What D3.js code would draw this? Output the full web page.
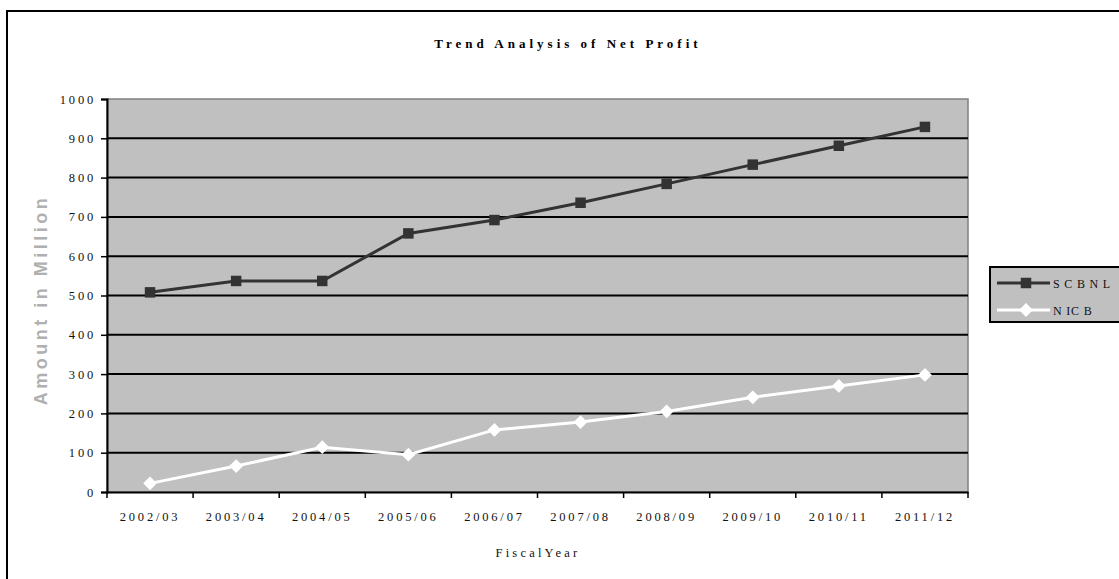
<!DOCTYPE html>
<html>
<head>
<meta charset="utf-8">
<script src="https://cdn.jsdelivr.net/npm/d3@7"></script>
<style>
body{margin:0;background:#fff;}
.tick text{font-family:"Liberation Serif","Times New Roman",serif;}
</style>
</head>
<body>
<script>
// data
var years=['2002/03','2003/04','2004/05','2005/06','2006/07','2007/08','2008/09','2009/10','2010/11','2011/12'];
var scbnl=[508,537,537,658,692,736,784,833,881,929];
var nicb=[22,66,114,95,158,178,205,241,270,298];
var yticks=[0,100,200,300,400,500,600,700,800,900,1000];
var seriesNames=['S C B N L','N IC B'];

var wid=1119, hgh=579;
var pl=107, pr=968, pt=99, pb=492; // plot box

var svg=d3.select('body').append('svg').attr('width',wid).attr('height',hgh);

// outer frame
svg.append('rect').attr('x',7).attr('y',11).attr('width',1200).attr('height',700)
  .attr('fill','#fff').attr('stroke','#000').attr('stroke-width',2);

var x=d3.scaleBand().domain(years).range([pl,pr]);
var y=d3.scaleLinear().domain([0,1000]).range([pb,pt]);

// plot area
svg.append('rect').attr('x',pl).attr('y',pt).attr('width',pr-pl).attr('height',pb-pt)
  .attr('fill','#c0c0c0').attr('stroke','#808080').attr('stroke-width',1.5);

// gridlines
svg.append('g').selectAll('line').data(yticks.slice(1,-1)).enter().append('line')
  .attr('x1',pl).attr('x2',pr).attr('y1',function(d){return y(d);}).attr('y2',function(d){return y(d);})
  .attr('stroke','#000').attr('stroke-width',2);

// y axis
var ya=svg.append('g').attr('transform','translate('+pl+',0)')
  .call(d3.axisLeft(y).tickValues(yticks).tickSize(6).tickPadding(5).tickFormat(function(d){return d;}));
ya.select('.domain').attr('stroke-width',2);
ya.selectAll('.tick line').attr('stroke-width',1.5);
ya.selectAll('.tick text').attr('font-size',12.5).attr('letter-spacing','2.8px').attr('fill','#111');

// x axis
var xa=svg.append('g').attr('transform','translate(0,'+pb+')')
  .call(d3.axisBottom(x).tickSize(0).tickPadding(20));
xa.select('.domain').attr('stroke-width',2);
xa.selectAll('.tick text').attr('font-size',12.5).attr('letter-spacing','2.8px').attr('fill','#111');
svg.append('g').selectAll('line').data(years.concat(['end'])).enter().append('line')
  .attr('x1',function(d,i){return pl+i*x.bandwidth();}).attr('x2',function(d,i){return pl+i*x.bandwidth();})
  .attr('y1',pb).attr('y2',pb+6).attr('stroke','#000').attr('stroke-width',1.5);

// titles
svg.append('text').attr('x',568).attr('y',48).attr('text-anchor','middle')
  .attr('font-family','Liberation Serif,serif').attr('font-weight','bold').attr('font-size',13)
  .attr('letter-spacing','4px').text('Trend Analysis of Net Profit');
svg.append('text').attr('x',538).attr('y',557).attr('text-anchor','middle')
  .attr('font-family','Liberation Serif,serif').attr('font-size',12.5).attr('fill','#111')
  .attr('letter-spacing','3.2px').text('FiscalYear');
svg.append('text').attr('transform','translate(47,300) rotate(-90)').attr('text-anchor','middle')
  .attr('font-family','Liberation Sans,Arial,sans-serif').attr('font-size',18).attr('font-weight','bold')
  .attr('letter-spacing','3.5px').attr('fill','#b0b0b0')
  .text('Amount in Million');

// lines
var cx=function(d,i){return x(years[i])+x.bandwidth()/2;};
var line=d3.line().x(cx).y(function(d){return y(d);});
svg.append('path').datum(scbnl).attr('d',line).attr('fill','none').attr('stroke','#333').attr('stroke-width',3);
svg.append('path').datum(nicb).attr('d',line).attr('fill','none').attr('stroke','#fff').attr('stroke-width',3);

var sq=d3.symbol().type(d3.symbolSquare).size(110);
var dm=d3.symbol().type(d3.symbolSquare).size(95);
svg.append('g').selectAll('path').data(scbnl).enter().append('path').attr('d',sq)
  .attr('transform',function(d,i){return 'translate('+cx(d,i)+','+y(d)+')';}).attr('fill','#333');
svg.append('g').selectAll('path').data(nicb).enter().append('path').attr('d',dm)
  .attr('transform',function(d,i){return 'translate('+cx(d,i)+','+y(d)+') rotate(45)';}).attr('fill','#fff');

// legend
var lg=svg.append('g');
lg.append('rect').attr('x',990).attr('y',267).attr('width',140).attr('height',55)
  .attr('fill','#c0c0c0').attr('stroke','#000').attr('stroke-width',2);
var rows=[{c:'#333',s:sq,r:0},{c:'#fff',s:dm,r:45}];
rows.forEach(function(r,i){
  var yy=283+i*27;
  lg.append('line').attr('x1',997).attr('x2',1050).attr('y1',yy).attr('y2',yy).attr('stroke',r.c).attr('stroke-width',3);
  lg.append('path').attr('d',r.s).attr('transform','translate(1026,'+yy+') rotate('+r.r+')').attr('fill',r.c);
  lg.append('text').attr('x',1053).attr('y',yy+5).attr('font-family','Liberation Serif,serif')
    .attr('font-size',12).attr('letter-spacing','0.8px').attr('fill','#111').text(seriesNames[i]);
});
</script>
</body>
</html>
